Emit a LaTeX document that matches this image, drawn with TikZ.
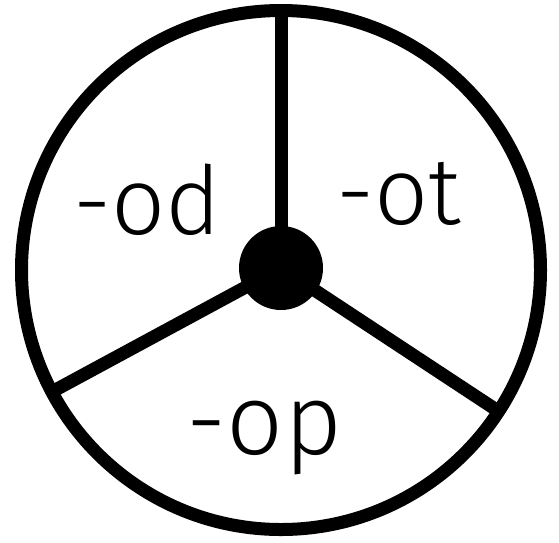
\documentclass[tikz,border=0pt]{standalone}
\usepackage{fontspec}
\setmainfont{Fira Sans Light}
\begin{document}
\begin{tikzpicture}[x=1pt,y=-1pt,
  rimstyle/.style={circle,draw=black,line width=13pt,minimum size=519pt,inner sep=0pt,outer sep=0pt},
  hubstyle/.style={circle,fill=black,minimum size=84pt,inner sep=0pt,outer sep=0pt},
  spoke/.style={line width=13pt,black},
  lbl/.style={anchor=base,inner sep=0pt,font=\fontsize{95}{95}\selectfont}]
\useasboundingbox (0,0) rectangle (559,542);
\node[rimstyle] (rim) at (281,270) {};
\node[hubstyle] (hub) at (281,268) {};
\draw[spoke] (hub.center) -- (rim.90);
\draw[spoke] (hub.center) -- (rim.208);
\draw[spoke] (hub.center) -- (rim.327);
\node[lbl] (od) at (147.5,234) {-od};
\node[lbl] (ot) at (399,224) {-ot};
\node[lbl,font=\fontsize{100}{100}\selectfont] (op) at (264.5,454) {-op};
\end{tikzpicture}
\end{document}
